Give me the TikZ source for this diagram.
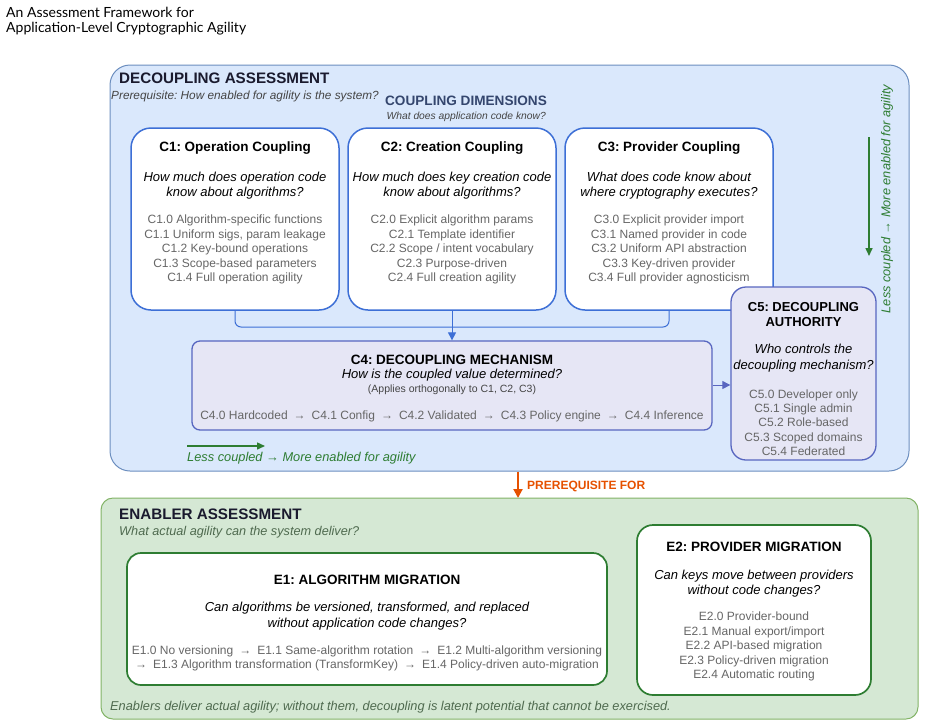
\documentclass[tikz,border=0pt]{standalone}
\usepackage{fontspec}
\setmainfont{Liberation Sans}
\newfontfamily\titlefont{Lato}
\usetikzlibrary{arrows.meta}
\definecolor{blueFill}{HTML}{DAE8FC}
\definecolor{blueLine}{HTML}{6C8EBF}
\definecolor{boxLine}{HTML}{3D6FD6}
\definecolor{mechFill}{HTML}{E6E6F5}
\definecolor{mechLine}{HTML}{5866C0}
\definecolor{greenFill}{HTML}{D5E8D4}
\definecolor{greenLine}{HTML}{82B366}
\definecolor{darkGreen}{HTML}{2E7D32}
\definecolor{orangeC}{HTML}{E65100}
\definecolor{headC}{HTML}{1A1A2E}
\definecolor{dimC}{HTML}{34466E}
\definecolor{itemC}{HTML}{666666}
\definecolor{subC}{HTML}{444444}
\definecolor{greySub}{HTML}{4F6A4F}
\newcommand{\ar}{\enspace→\enspace}
\frenchspacing
\begin{document}
\begin{tikzpicture}[x=1pt,y=-1pt,
  txt/.style={inner sep=0pt, align=center},
  bluereg/.style={draw=blueLine, fill=blueFill, line width=1pt, rounded corners=20pt},
  greenreg/.style={draw=greenLine, fill=greenFill, line width=1pt, rounded corners=12pt},
  dimbox/.style={draw=boxLine, fill=white, line width=1.5pt, rounded corners=20pt, inner sep=0pt},
  mechbox/.style={draw=mechLine, fill=mechFill, line width=1.3pt, inner sep=0pt},
  enbox/.style={draw=darkGreen, fill=white, line width=1.7pt, rounded corners=14pt, inner sep=0pt},
  head/.style={txt, font=\bfseries\fontsize{15.2}{18}\selectfont, text=headC},
  ttl/.style={txt, font=\bfseries\fontsize{13.5}{16}\selectfont, text=black},
  qst/.style={txt, font=\itshape\fontsize{13}{15.5}\selectfont, text=black},
  itm/.style={txt, font=\fontsize{12}{14.5}\selectfont, text=itemC},
  conn/.style={draw=boxLine, line width=1pt},
  garrow/.style={draw=darkGreen, line width=1.5pt, -{Triangle[length=8pt,width=7pt]}},
  gtext/.style={txt, font=\itshape\fontsize{12.8}{15}\selectfont, text=darkGreen}
]
\useasboundingbox (0,0) rectangle (925,726);

% Title
\node[txt, anchor=west, font=\titlefont\fontsize{14}{16}\selectfont] (title1) at (6,12.5) {An Assessment Framework for};
\node[txt, anchor=west, font=\titlefont\fontsize{14}{16}\selectfont] (title2) at (6,28.5) {Application-Level Cryptographic Agility};

% Decoupling region
\node[bluereg, minimum width=799pt, minimum height=406pt] (dreg) at (509.5,268) {};
\node[head, anchor=west] (dhead) at (119,78) {DECOUPLING ASSESSMENT};
\node[txt, anchor=west, font=\itshape\fontsize{11.8}{14}\selectfont, text=subC] (dsub) at (111,96) {Prerequisite: How enabled for agility is the system?};
\node[txt, font=\bfseries\fontsize{13.6}{16}\selectfont, text=dimC] (dimhead) at (466,100.5) {COUPLING DIMENSIONS};
\node[txt, anchor=east, font=\itshape\fontsize{10.3}{12}\selectfont, text=subC] (dimsub) at (546,117) {What does application code know?};

% C1..C3
\node[dimbox, minimum width=208pt, minimum height=182pt] (c1) at (235,219) {};
\node[dimbox, minimum width=208pt, minimum height=182pt] (c2) at (452,219) {};
\node[dimbox, minimum width=208pt, minimum height=182pt] (c3) at (669,219) {};

\node[ttl] (c1t) at (235,148.5) {C1: Operation Coupling};
\node[qst] (c1q) at (235,185.5) {How much does operation code\\know about algorithms?};
\node[itm] (c1i) at (235,249.5) {C1.0 Algorithm-specific functions\\C1.1 Uniform sigs, param leakage\\C1.2 Key-bound operations\\C1.3 Scope-based parameters\\C1.4 Full operation agility};

\node[ttl] (c2t) at (452,148.5) {C2: Creation Coupling};
\node[qst] (c2q) at (452,185.5) {How much does key creation code\\know about algorithms?};
\node[itm] (c2i) at (452,249.5) {C2.0 Explicit algorithm params\\C2.1 Template identifier\\C2.2 Scope / intent vocabulary\\C2.3 Purpose-driven\\C2.4 Full creation agility};

\node[ttl] (c3t) at (669,148.5) {C3: Provider Coupling};
\node[qst] (c3q) at (669,185.5) {What does code know about\\where cryptography executes?};
\node[itm] (c3i) at (669,249.5) {C3.0 Explicit provider import\\C3.1 Named provider in code\\C3.2 Uniform API abstraction\\C3.3 Key-driven provider\\C3.4 Full provider agnosticism};

% C4
\node[mechbox, rounded corners=8pt, minimum width=520pt, minimum height=89pt] (c4) at (452,385.5) {};
\node[ttl] (c4t) at (452,359.5) {C4: DECOUPLING MECHANISM};
\node[qst] (c4q) at (452,375.5) {How is the coupled value determined?};
\node[txt, font=\fontsize{10.5}{12}\selectfont, text=subC] (c4a) at (452,390) {(Applies orthogonally to C1, C2, C3)};
\node[itm] (c4i) at (452,416) {C4.0 Hardcoded\ar C4.1 Config\ar C4.2 Validated\ar C4.3 Policy engine\ar C4.4 Inference};

% connectors C1-C3 to C4
\coordinate (bj) at (452,327);
\draw[conn, rounded corners=6pt] (c1.south) |- (bj) -| (c3.south);
\draw[conn, -{Triangle[length=8pt,width=8pt]}] (c2.south) -- (c4.north);

% C5
\node[mechbox, rounded corners=15pt, minimum width=145pt, minimum height=173pt] (c5) at (803.5,373.5) {};
\node[ttl, font=\bfseries\fontsize{13}{15.5}\selectfont] (c5t) at (803.5,314.5) {C5: DECOUPLING\\AUTHORITY};
\node[qst] (c5q) at (803.5,358) {Who controls the\\decoupling mechanism?};
\node[itm, font=\fontsize{12}{14.3}\selectfont] (c5i) at (803.5,422.5) {C5.0 Developer only\\C5.1 Single admin\\C5.2 Role-based\\C5.3 Scoped domains\\C5.4 Federated};
\draw[draw=mechLine, line width=1pt, -{Triangle[length=8pt,width=8pt]}] (c4.east |- 0,385) -- (c5.west |- 0,385);

% green hints
\coordinate (ga1) at (187,446);
\coordinate (ga2) at (265,446);
\draw[garrow] (ga1) -- (ga2);
\node[gtext, anchor=west] (gt1) at (187,458.5) {Less coupled → More enabled for agility};
\coordinate (gv1) at (869,137);
\coordinate (gv2) at (869,256);
\draw[garrow] (gv1) -- (gv2);
\node[gtext, rotate=90] (gt2) at (887,199) {Less coupled → More enabled for agility};

% prerequisite
\draw[draw=orangeC, line width=2pt, -{Triangle[length=9pt,width=9pt]}] (dreg.south -| 518,0) -- (518,498) coordinate (preEnd);
\node[txt, anchor=west, font=\bfseries\fontsize{12}{14}\selectfont, text=orangeC] (pre) at (527,486) {PREREQUISITE FOR};

% Enabler region
\node[greenreg, minimum width=817pt, minimum height=221pt] (ereg) at (509.5,608.5) {};
\node[head, anchor=west] (ehead) at (119,514.5) {ENABLER ASSESSMENT};
\node[txt, anchor=west, font=\itshape\fontsize{12.7}{14}\selectfont, text=greySub] (esub) at (119,532) {What actual agility can the system deliver?};

\node[enbox, minimum width=480pt, minimum height=132pt] (e1) at (367,619) {};
\node[ttl] (e1t) at (367,579.5) {E1: ALGORITHM MIGRATION};
\node[qst] (e1q) at (367,616) {Can algorithms be versioned, transformed, and replaced\\without application code changes?};
\node[itm] (e1i) at (367,658.5) {E1.0 No versioning\ar E1.1 Same-algorithm rotation\ar E1.2 Multi-algorithm versioning\\→\enspace E1.3 Algorithm transformation (TransformKey)\ar E1.4 Policy-driven auto-migration};

\node[enbox, rounded corners=16pt, minimum width=234pt, minimum height=170pt] (e2) at (754,610) {};
\node[ttl] (e2t) at (754,546.5) {E2: PROVIDER MIGRATION};
\node[qst] (e2q) at (754,583.5) {Can keys move between providers\\without code changes?};
\node[itm] (e2i) at (754,646.5) {E2.0 Provider-bound\\E2.1 Manual export/import\\E2.2 API-based migration\\E2.3 Policy-driven migration\\E2.4 Automatic routing};

\node[txt, anchor=west, font=\itshape\fontsize{12.8}{14}\selectfont, text=greySub] (efoot) at (110,707) {Enablers deliver actual agility; without them, decoupling is latent potential that cannot be exercised.};
\end{tikzpicture}
\end{document}
